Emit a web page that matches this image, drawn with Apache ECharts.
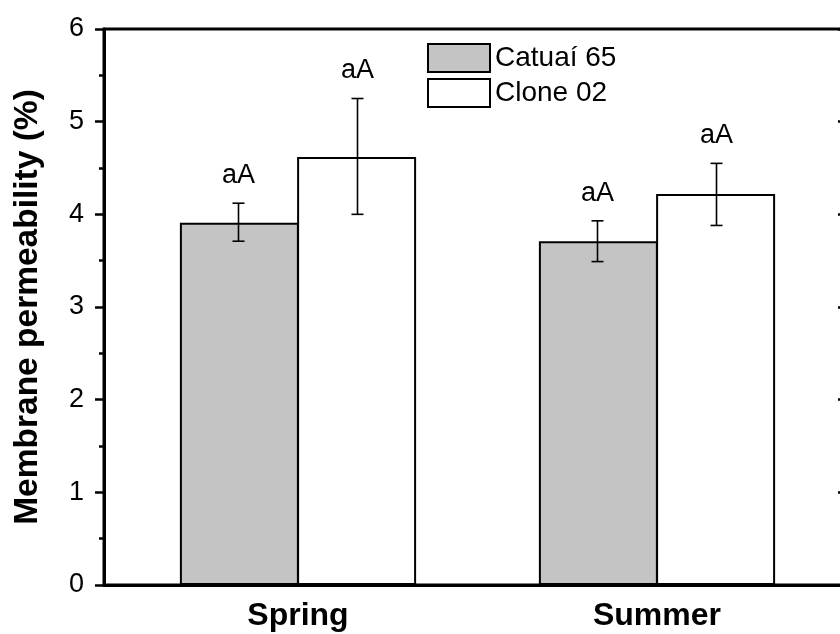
<!DOCTYPE html>
<html>
<head>
<meta charset="utf-8">
<script src="https://cdn.jsdelivr.net/npm/echarts@6/dist/echarts.min.js"></script>
<style>html,body{margin:0;padding:0;background:#fff}#c{width:840px;height:634px}</style>
</head>
<body>
<div id="c"></div>
<script>
var categories = ['Spring', 'Summer'];
var seriesNames = ['Catuaí 65', 'Clone 02'];
var catuaiValues = [3.91, 3.71];
var catuaiLow = [3.71, 3.49];
var catuaiHigh = [4.12, 3.93];
var cloneValues = [4.62, 4.22];
var cloneLow = [4.00, 3.88];
var cloneHigh = [5.25, 4.55];
var catuaiLetters = ['aA', 'aA'];
var cloneLetters = ['aA', 'aA'];
var yTicks = [0, 1, 2, 3, 4, 5, 6];

var FONT = "'Liberation Sans', Arial, sans-serif";
var BAR_W = 119;

function barData(vals) { return vals.map(function (v, i) { return [i + 1, v]; }); }
function errData(lo, hi, letters) { return lo.map(function (l, i) { return [i + 1, l, hi[i], letters[i]]; }); }

function makeErr(side) {
  return function (params, api) {
    var x = api.value(0);
    var pLo = api.coord([x, api.value(1)]);
    var pHi = api.coord([x, api.value(2)]);
    var cx = pLo[0] + side * BAR_W / 2;
    var cap = 6;
    var st = { stroke: '#000', lineWidth: 1.6 };
    return {
      type: 'group',
      children: [
        { type: 'line', shape: { x1: cx, y1: pLo[1], x2: cx, y2: pHi[1] }, style: st },
        { type: 'line', shape: { x1: cx - cap, y1: pLo[1], x2: cx + cap, y2: pLo[1] }, style: st },
        { type: 'line', shape: { x1: cx - cap, y1: pHi[1], x2: cx + cap, y2: pHi[1] }, style: st },
        { type: 'text', x: cx, y: pHi[1] - 14, style: { text: api.value(3), fill: '#000', font: '27px ' + FONT, align: 'center', verticalAlign: 'bottom' } }
      ]
    };
  };
}

var chart = echarts.init(document.getElementById('c'));
chart.setOption({
  backgroundColor: '#fff',
  animation: false,
  grid: { left: 104, right: -11, top: 29, bottom: 49, outerBoundsMode: 'none', containLabel: false,
    show: true, borderColor: '#000', borderWidth: 3, backgroundColor: 'transparent' },
  legend: {
    orient: 'vertical', left: 427, top: 43, padding: 0, itemWidth: 62, itemHeight: 28, itemGap: 5,
    icon: 'rect',
    textStyle: { fontSize: 28, color: '#000', fontFamily: FONT },
    data: seriesNames
  },
  xAxis: {
    type: 'value', min: 0.4596, max: 2.5404,
    axisLine: { show: true, lineStyle: { color: '#000', width: 3 } },
    axisTick: { show: false },
    splitLine: { show: false },
    axisLabel: {
      customValues: [1, 2],
      formatter: function (v) { return categories[Math.round(v) - 1] || ''; },
      fontSize: 32, fontWeight: 'bold', color: '#000', fontFamily: FONT, margin: 15
    }
  },
  yAxis: [{
    type: 'value', min: 0, max: 6, interval: 1,
    name: 'Membrane permeability (%)', nameLocation: 'middle', nameGap: 59,
    nameTextStyle: { fontSize: 33.5, fontWeight: 'bold', color: '#000', fontFamily: FONT },
    axisLine: { show: true, lineStyle: { color: '#000', width: 3 } },
    axisTick: { show: true, length: 9, lineStyle: { color: '#000', width: 2.5 } },
    minorTick: { show: true, splitNumber: 2, length: 5, lineStyle: { color: '#000', width: 2.5 } },
    splitLine: { show: false },
    axisLabel: { fontSize: 27, color: '#000', fontFamily: FONT, margin: 20,
      formatter: function (v) { return yTicks.indexOf(v) >= 0 ? String(v) : ''; } }
  }, {
    type: 'value', min: 0, max: 6, interval: 1, position: 'right',
    axisLine: { show: false },
    axisTick: { show: true, inside: true, length: 13, lineStyle: { color: '#000', width: 2.5 } },
    axisLabel: { show: false },
    splitLine: { show: false }
  }],
  series: [
    { name: seriesNames[0], type: 'bar', data: barData(catuaiValues), barWidth: BAR_W, barGap: '-1.5%',
      itemStyle: { color: '#c4c4c4', borderColor: '#000', borderWidth: 2 } },
    { name: seriesNames[1], type: 'bar', data: barData(cloneValues), barWidth: BAR_W, barGap: '-1.5%',
      itemStyle: { color: '#ffffff', borderColor: '#000', borderWidth: 2 } },
    { type: 'custom', renderItem: makeErr(-1), data: errData(catuaiLow, catuaiHigh, catuaiLetters), z: 10 },
    { type: 'custom', renderItem: makeErr(1), data: errData(cloneLow, cloneHigh, cloneLetters), z: 10 }
  ]
});
</script>
</body>
</html>
